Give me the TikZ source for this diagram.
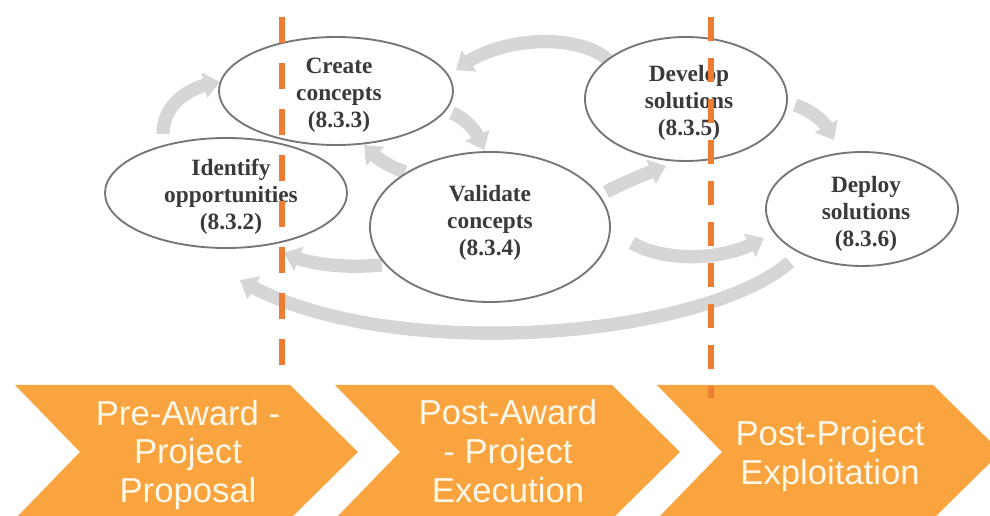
\documentclass[tikz,border=0pt]{standalone}
\usepackage{fontspec}
\setmainfont{Liberation Serif}
\setsansfont{Liberation Sans}
\usetikzlibrary{arrows.meta,bending,shapes.geometric}
\definecolor{agray}{RGB}{214,214,214}
\definecolor{egray}{RGB}{118,118,118}
\definecolor{tgray}{RGB}{58,58,58}
\definecolor{dorange}{RGB}{237,125,49}
\definecolor{corange}{RGB}{249,164,62}
\definecolor{cream}{RGB}{255,248,232}
\tikzset{
  garrow/.style={draw=agray, line width=10pt, -{Triangle[length=12pt,width=19pt]}},
  oval/.style={ellipse, draw=egray, line width=1.4pt, fill=white, inner sep=0pt},
  otext/.style={inner sep=0pt, align=center, text=tgray, font=\fontsize{17.5}{20.25}\selectfont\bfseries},
  chev/.style={fill=corange, draw=none},
  ctext/.style={inner sep=0pt, align=center, text=cream, font=\sffamily\fontsize{26}{29}\selectfont},
  phase/.style={draw=dorange, line width=4.2pt}
}
\begin{document}
\begin{tikzpicture}[x=0.75pt,y=-0.75pt]
\useasboundingbox (0,0) rectangle (990,516);
\clip (0,0) rectangle (990,516);

% arrow end points
\coordinate (a1s) at (163,134); \coordinate (a1e) at (220,82);
\coordinate (a2s) at (452,113); \coordinate (a2e) at (484,150);
\coordinate (a3s) at (405,172); \coordinate (a3e) at (364,145);
\coordinate (a4s) at (382,265); \coordinate (a4e) at (284,253);
\coordinate (a5s) at (606,192); \coordinate (a5e) at (666,166);
\coordinate (a6s) at (632,243); \coordinate (a6e) at (764,238);
\coordinate (a7s) at (795,105); \coordinate (a7e) at (834,140);
\coordinate (a8s) at (608,60);  \coordinate (a8e) at (456,70);
\coordinate (a9s) at (790,262); \coordinate (a9e) at (240,280);

% gray cycle arrows
\draw[garrow] (a1s) .. controls (163,105) and (188,86) .. (a1e);
\draw[garrow] (a2s) .. controls (468,120) and (478,132) .. (a2e);
\draw[garrow] (a3s) .. controls (388,166) and (375,158) .. (a3e);
\draw[garrow] (a4s) .. controls (350,268) and (310,266) .. (a4e);
\draw[garrow] (a5s) .. controls (625,182) and (645,174) .. (a5e);
\draw[garrow] (a6s) .. controls (665,262) and (725,262) .. (a6e);
\draw[garrow] (a7s) .. controls (815,112) and (828,124) .. (a7e);
\draw[garrow] (a8s) .. controls (580,34) and (500,34) .. (a8e);
\draw[garrow] (a9s) .. controls (700,340) and (380,365) .. (a9e);

% ellipses
\node[oval, minimum width=175.5pt, minimum height=81pt] (create) at (336,91) {};
\node[oval, minimum width=181.5pt, minimum height=82.5pt] (ident) at (226,193) {};
\node[oval, minimum width=180pt, minimum height=112.5pt] (valid) at (490,227) {};
\node[oval, minimum width=151.5pt, minimum height=93pt] (devel) at (686,99) {};
\node[oval, minimum width=144pt, minimum height=85.5pt] (deploy) at (862,209) {};

\node[otext] (createt) at (339,95) {Create\\concepts\\(8.3.3)};
\node[otext] (identt) at (231,197) {Identify\\opportunities\\(8.3.2)};
\node[otext] (validt) at (490,223) {Validate\\concepts\\(8.3.4)};
\node[otext] (develt) at (689,103) {Develop\\solutions\\(8.3.5)};
\node[otext] (deployt) at (866,214) {Deploy\\solutions\\(8.3.6)};

% chevrons
\fill[chev] (15,385) -- (290,385) -- (358,452) -- (290,519) -- (15,519) -- (80,452) -- cycle;
\fill[chev] (335,385) -- (612,385) -- (680,452) -- (612,519) -- (335,519) -- (400,452) -- cycle;
\fill[chev] (657,385) -- (933,385) -- (1001,452) -- (933,519) -- (657,519) -- (722,452) -- cycle;
\node[ctext] (c1) at (188,455) {Pre-Award -\\Project\\Proposal};
\node[ctext] (c2) at (508,451) {Post-Award\\- Project\\Execution};
\node[ctext] (c3) at (830,456) {Post-Project\\Exploitation};

% phase separators
\coordinate (p1t) at (282,17); \coordinate (p1b) at (282,372);
\coordinate (p2t) at (711,17); \coordinate (p2b) at (711,398);
\draw[phase, dash pattern=on 19.5pt off 15pt] (p1t) -- (p1b);
\draw[phase, dash pattern=on 18pt off 12.75pt] (p2t) -- (p2b);
\end{tikzpicture}
\end{document}
